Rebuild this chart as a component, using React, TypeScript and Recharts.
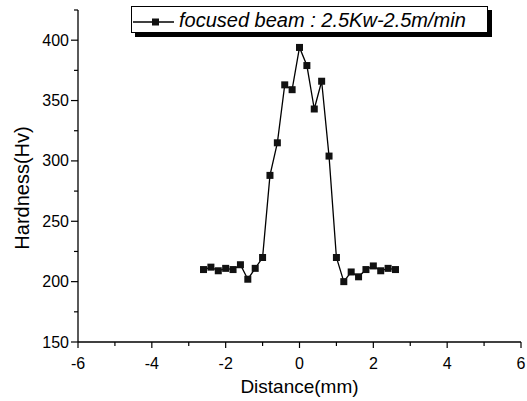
import { LineChart, Line, XAxis, YAxis, Legend } from 'recharts';

// hardness profile, 0.2 mm steps
const distance = [
  -2.6, -2.4, -2.2, -2.0, -1.8, -1.6, -1.4, -1.2, -1.0, -0.8, -0.6, -0.4, -0.2, 0,
  0.2, 0.4, 0.6, 0.8, 1.0, 1.2, 1.4, 1.6, 1.8, 2.0, 2.2, 2.4, 2.6,
];
const hardness = [
  210, 212, 209, 211, 210, 214, 202, 211, 220, 288, 315, 363, 359, 394,
  379, 343, 366, 304, 220, 200, 208, 204, 210, 213, 209, 211, 210,
];
const xTicks = [-6, -5, -4, -3, -2, -1, 0, 1, 2, 3, 4, 5, 6];
const yTicks = [150, 175, 200, 225, 250, 275, 300, 325, 350, 375, 400, 425];
const seriesName = 'focused beam : 2.5Kw-2.5m/min';

const data = distance.map((d, i) => ({ distance: d, hardness: hardness[i] }));

const FONT = '"Liberation Sans", Arial, sans-serif';

const XTick = (props: any) => {
  const { x, y, payload } = props;
  const major = payload.value % 2 === 0;
  return (
    <g>
      <line x1={x} x2={x} y1={y} y2={y + (major ? 6 : 4)} stroke="#000" strokeWidth={1.2} />
      {major && (
        <text x={x} y={y + 21} textAnchor="middle" dominantBaseline="central" fontSize={16} fontFamily={FONT} fill="#000">
          {payload.value}
        </text>
      )}
    </g>
  );
};

const YTick = (props: any) => {
  const { x, y, payload } = props;
  const major = payload.value % 50 === 0 && payload.value < 425;
  return (
    <g>
      <line x1={x} x2={x - (major ? 7 : 4)} y1={y} y2={y} stroke="#000" strokeWidth={1.2} />
      {major && (
        <text x={x - 9} y={y} textAnchor="end" dominantBaseline="central" fontSize={16} fontFamily={FONT} fill="#000">
          {payload.value}
        </text>
      )}
    </g>
  );
};

const SquareDot = (props: any) => {
  const { cx, cy } = props;
  if (cx == null || cy == null) return null;
  return <rect x={cx - 3.5} y={cy - 3.5} width={7} height={7} fill="#111" />;
};

const LegendBox = () => (
  <div
    style={{
      width: 355,
      height: 25,
      border: '1px solid #000',
      boxShadow: '4px 4px 0 #000',
      background: '#fff',
      display: 'flex',
      alignItems: 'center',
      fontFamily: FONT,
      fontSize: 20,
      fontStyle: 'italic',
      color: '#000',
      whiteSpace: 'nowrap',
    }}
  >
    <svg width={44} height={25} style={{ flexShrink: 0 }}>
      <line x1={1} x2={42} y1={15} y2={15} stroke="#000" strokeWidth={1.3} />
      <rect x={20} y={11.5} width={7} height={7} fill="#111" />
    </svg>
    <span style={{ marginLeft: 3, marginTop: 2 }}>{seriesName}</span>
  </div>
);

export default function App() {
  return (
    <div style={{ position: 'absolute', left: 0, top: 0, background: '#fff' }}>
      <LineChart width={527} height={401} data={data} margin={{ top: 10, right: 6, bottom: 0, left: 0 }}>
        <XAxis
          dataKey="distance"
          type="number"
          domain={[-6, 6]}
          ticks={xTicks}
          interval={0}
          tickSize={0}
          tickMargin={0}
          tick={<XTick />}
          height={59}
          axisLine={{ stroke: '#000', strokeWidth: 1.3 }}
          label={{ value: 'Distance(mm)', position: 'insideBottom', offset: 8, fontSize: 19, fontFamily: FONT, fill: '#000' }}
        />
        <YAxis
          type="number"
          domain={[150, 425]}
          ticks={yTicks}
          interval={0}
          tickSize={0}
          tickMargin={0}
          tick={<YTick />}
          width={78}
          axisLine={{ stroke: '#000', strokeWidth: 1.3 }}
          label={{
            value: 'Hardness(Hv)',
            angle: -90,
            position: 'insideLeft',
            offset: 22,
            dy: 12,
            textAnchor: 'middle',
            fontSize: 20,
            fontFamily: FONT,
            fill: '#000',
          }}
        />
        <Legend
          layout="vertical"
          align="center"
          verticalAlign="middle"
          wrapperStyle={{ left: 131, top: 6, width: 'auto' }}
          content={<LegendBox />}
        />
        <Line
          type="linear"
          dataKey="hardness"
          name={seriesName}
          stroke="#000"
          strokeWidth={1.3}
          dot={<SquareDot />}
          activeDot={false}
          isAnimationActive={false}
        />
      </LineChart>
    </div>
  );
}
